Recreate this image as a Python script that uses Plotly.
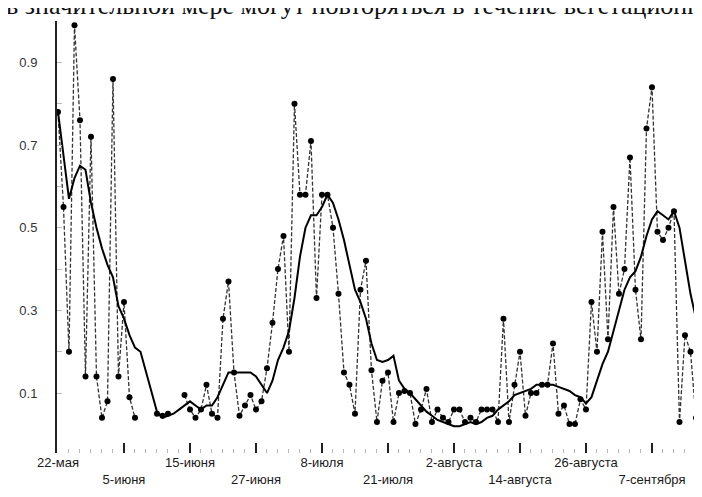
import plotly.graph_objects as go

# observation index (daily points along the season)
idx = list(range(119))

# daily values (dashed line with markers); None = no observation
daily = [0.78, 0.55, 0.20, 0.99, 0.76, 0.14, 0.72, 0.14, 0.04, 0.08,
         0.86, 0.14, 0.32, 0.09, 0.04, None, None, None, 0.05, 0.045,
         0.05, None, None, 0.095, 0.06, 0.04, 0.06, 0.12, 0.05, 0.04,
         0.28, 0.37, 0.15, 0.045, 0.07, 0.095, 0.06, 0.08, 0.16, 0.27,
         0.40, 0.48, 0.20, 0.80, 0.58, 0.58, 0.71, 0.33, 0.58, 0.58,
         0.50, 0.34, 0.15, 0.12, 0.05, 0.35, 0.42, 0.155, 0.03, 0.13,
         0.15, 0.03, 0.10, 0.105, 0.10, 0.025, 0.06, 0.11, 0.03, 0.06,
         0.04, 0.03, 0.06, 0.06, 0.03, 0.04, 0.03, 0.06, 0.06, 0.06,
         0.03, 0.28, 0.03, 0.12, 0.20, 0.045, 0.10, 0.10, 0.12, 0.12,
         0.22, 0.05, 0.07, 0.025, 0.025, 0.085, 0.06, 0.32, 0.20, 0.49,
         0.23, 0.55, 0.34, 0.40, 0.67, 0.35, 0.23, 0.74, 0.84, 0.49,
         0.47, 0.50, 0.54, 0.03, 0.24, 0.20, 0.04, 0.12, 0.73]

# smoothed values (solid line)
smooth = [0.78, 0.68, 0.57, 0.62, 0.65, 0.64, 0.56, 0.50, 0.45, 0.41,
          0.38, 0.31, 0.28, 0.24, 0.21, 0.20, 0.15, 0.10, 0.055, 0.04,
          0.045, 0.05, 0.06, 0.07, 0.08, 0.07, 0.06, 0.07, 0.07, 0.09,
          0.12, 0.15, 0.15, 0.15, 0.15, 0.15, 0.14, 0.12, 0.10, 0.13,
          0.18, 0.21, 0.25, 0.33, 0.43, 0.50, 0.53, 0.53, 0.55, 0.58,
          0.56, 0.52, 0.47, 0.41, 0.35, 0.32, 0.28, 0.22, 0.18, 0.175,
          0.18, 0.19, 0.13, 0.11, 0.10, 0.085, 0.07, 0.055, 0.045, 0.035,
          0.03, 0.025, 0.02, 0.02, 0.025, 0.03, 0.025, 0.03, 0.04, 0.045,
          0.06, 0.07, 0.08, 0.095, 0.10, 0.105, 0.11, 0.12, 0.12, 0.12,
          0.12, 0.115, 0.11, 0.105, 0.095, 0.09, 0.075, 0.09, 0.13, 0.17,
          0.20, 0.25, 0.30, 0.35, 0.38, 0.395, 0.43, 0.48, 0.52, 0.54,
          0.53, 0.52, 0.54, 0.50, 0.42, 0.34, 0.28, 0.23, 0.26]

tick_pos = [0, 12, 24, 36, 48, 60, 72, 84, 96, 108]
tick_labels = ["22-мая", "5-июня", "15-июня", "27-июня", "8-июля",
               "21-июля", "2-августа", "14-августа", "26-августа", "7-сентября"]
y_ticks = [0.1, 0.3, 0.5, 0.7, 0.9]
y_labels = ["0.1", "0.3", "0.5", "0.7", "0.9"]
y_minor = [0.2, 0.4, 0.6, 0.8]

header_text = "в значительной мере могут повторяться в течение вегетационн"

stagger = [t if i % 2 == 0 else "<br>" + t for i, t in enumerate(tick_labels)]

fig = go.Figure()
fig.add_trace(go.Scatter(
    x=idx, y=daily, mode="lines+markers", connectgaps=False,
    line=dict(color="#333333", width=1.3, dash="4px,2px"),
    marker=dict(color="black", size=6, symbol="circle")))
fig.add_trace(go.Scatter(
    x=idx, y=smooth, mode="lines",
    line=dict(color="black", width=2)))

fig.update_layout(
    width=702, height=497,
    margin=dict(l=49, r=0, t=13, b=52),
    paper_bgcolor="white", plot_bgcolor="white",
    showlegend=False,
    font=dict(family="Liberation Sans, Arial, sans-serif", color="#222"),
)
fig.update_xaxes(
    range=[-0.18, 118.55], showgrid=False, zeroline=False, showline=False,
    tickmode="array", tickvals=tick_pos, ticktext=stagger, tickangle=0,
    ticks="inside", ticklen=10, tickwidth=2, tickcolor="#222",
    tickfont=dict(size=13, color="#1a1a1a"),
    minor=dict(tickmode="linear", tick0=0, dtick=2, ticks="inside",
               ticklen=4, tickwidth=1, tickcolor="#b8b8b8"),
)
fig.update_yaxes(
    range=[-0.045, 1.0], showgrid=False, zeroline=False,
    showline=True, linecolor="#222", linewidth=2,
    tickmode="array", tickvals=y_ticks, ticktext=y_labels,
    ticks="inside", ticklen=5, tickcolor="#bbb",
    tickfont=dict(size=13, color="#333"),
    ticklabelstandoff=15,
    minor=dict(tickvals=y_minor, ticks="inside", ticklen=5, tickcolor="#bbb"),
)
fig.add_annotation(
    text=header_text, xref="paper", yref="paper", x=0, y=1,
    xanchor="left", yanchor="bottom", xshift=-53, yshift=-1,
    showarrow=False,
    font=dict(family="Liberation Serif, Times New Roman, serif", size=26, color="#111"),
)

fig.write_html("out.html")
